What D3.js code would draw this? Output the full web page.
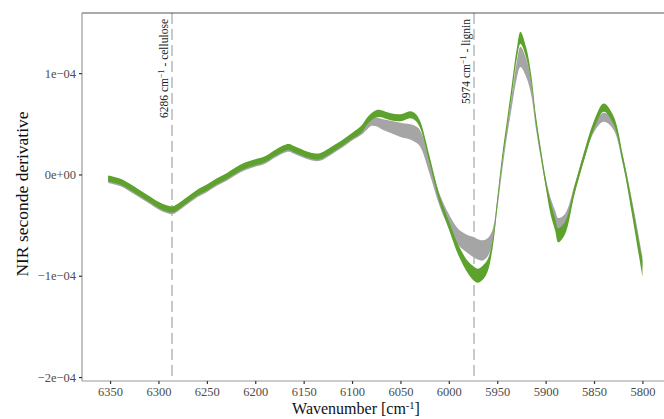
<!DOCTYPE html>
<html>
<head>
<meta charset="utf-8">
<script src="https://cdn.jsdelivr.net/npm/d3@7"></script>
<style>
  body { margin: 0; background: #fff; }
  svg { display: block; font-family: "Liberation Serif", "DejaVu Serif", serif; }
</style>
</head>
<body>
<div id="chart"></div>
<script>
// values in units of 1e-04
const wavenumber = [6352, 6340, 6330, 6320, 6310, 6300, 6290, 6285, 6280, 6270, 6260, 6250, 6240, 6230, 6220, 6210, 6200, 6190, 6180, 6170, 6165, 6160, 6150, 6140, 6133, 6120, 6110, 6100, 6090, 6085, 6080, 6075, 6070, 6060, 6050, 6040, 6035, 6030, 6020, 6010, 6000, 5990, 5980, 5974, 5970, 5965, 5960, 5955, 5950, 5945, 5940, 5935, 5930, 5926, 5920, 5915, 5910, 5905, 5900, 5895, 5890, 5887, 5880, 5870, 5860, 5850, 5840, 5830, 5820, 5810, 5800];

const greenLower = [-0.07, -0.10, -0.15, -0.21, -0.27, -0.33, -0.37, -0.375, -0.35, -0.28, -0.21, -0.16, -0.10, -0.05, 0.01, 0.06, 0.09, 0.12, 0.18, 0.23, 0.24, 0.22, 0.18, 0.15, 0.15, 0.22, 0.28, 0.35, 0.415, 0.485, 0.535, 0.565, 0.565, 0.535, 0.525, 0.555, 0.535, 0.465, 0.115, -0.265, -0.54, -0.80, -0.98, -1.05, -1.07, -1.04, -0.96, -0.74, -0.32, 0.10, 0.45, 0.78, 1.13, 1.29, 1.15, 0.91, 0.50, 0.18, -0.12, -0.39, -0.56, -0.67, -0.59, -0.19, 0.15, 0.45, 0.62, 0.50, 0.10, -0.44, -1.01];
const greenUpper = [-0.01, -0.04, -0.09, -0.15, -0.21, -0.27, -0.31, -0.315, -0.29, -0.22, -0.15, -0.10, -0.04, 0.01, 0.07, 0.12, 0.15, 0.18, 0.24, 0.29, 0.30, 0.28, 0.24, 0.21, 0.21, 0.28, 0.34, 0.41, 0.485, 0.555, 0.605, 0.635, 0.635, 0.605, 0.595, 0.625, 0.605, 0.535, 0.185, -0.195, -0.46, -0.70, -0.86, -0.91, -0.93, -0.90, -0.84, -0.66, -0.24, 0.18, 0.53, 0.88, 1.23, 1.41, 1.25, 0.99, 0.58, 0.26, -0.04, -0.27, -0.44, -0.53, -0.47, -0.11, 0.23, 0.53, 0.70, 0.58, 0.18, -0.32, -0.85];

const greyLower = [-0.085, -0.115, -0.165, -0.225, -0.285, -0.345, -0.385, -0.39, -0.365, -0.295, -0.225, -0.175, -0.115, -0.065, -0.005, 0.045, 0.075, 0.105, 0.165, 0.215, 0.225, 0.205, 0.165, 0.135, 0.135, 0.205, 0.265, 0.335, 0.395, 0.44, 0.48, 0.475, 0.45, 0.41, 0.37, 0.345, 0.32, 0.28, 0.01, -0.30, -0.53, -0.70, -0.78, -0.82, -0.84, -0.85, -0.81, -0.69, -0.35, 0.03, 0.37, 0.66, 0.94, 1.06, 0.96, 0.79, 0.45, 0.16, -0.11, -0.33, -0.48, -0.55, -0.51, -0.18, 0.15, 0.42, 0.52, 0.445, 0.09, -0.39, -0.93];
const greyUpper = [-0.015, -0.045, -0.095, -0.155, -0.215, -0.275, -0.315, -0.32, -0.295, -0.225, -0.155, -0.105, -0.045, 0.005, 0.065, 0.115, 0.145, 0.175, 0.235, 0.285, 0.295, 0.275, 0.235, 0.205, 0.205, 0.275, 0.335, 0.405, 0.465, 0.52, 0.56, 0.565, 0.55, 0.53, 0.51, 0.495, 0.48, 0.44, 0.15, -0.18, -0.39, -0.54, -0.60, -0.62, -0.64, -0.65, -0.63, -0.55, -0.25, 0.13, 0.47, 0.78, 1.10, 1.26, 1.14, 0.93, 0.55, 0.24, -0.03, -0.23, -0.36, -0.43, -0.39, -0.10, 0.23, 0.50, 0.61, 0.535, 0.17, -0.29, -0.81];

const xTicks = [6350, 6300, 6250, 6200, 6150, 6100, 6050, 6000, 5950, 5900, 5850, 5800];
const yTicks = [-2, -1, 0, 1];
const yTickLabels = ["\u22122e\u221204", "\u22121e\u221204", "0e+00", "1e\u221204"];

const markerPositions = [6286, 5974];
const markerNames = ["cellulose", "lignin"];

const width = 664;
const height = 419;
const margin = { top: 13, right: 0, bottom: 38, left: 82 };

const svg = d3
  .select("#chart")
  .append("svg")
  .attr("width", width)
  .attr("height", height);

const x = d3
  .scaleLinear()
  .domain([6379, 5777.7])
  .range([margin.left, width - margin.right]);

const y = d3
  .scaleLinear()
  .domain([-2.039, 1.594])
  .range([height - margin.bottom, margin.top]);

const rows = wavenumber.map((w, i) => ({
  w: w,
  gl: greenLower[i],
  gu: greenUpper[i],
  rl: greyLower[i],
  ru: greyUpper[i],
}));

// marker lines sit under the ribbons
svg
  .append("g")
  .selectAll("line")
  .data(markerPositions)
  .enter()
  .append("line")
  .attr("x1", (d) => x(d))
  .attr("x2", (d) => x(d))
  .attr("y1", margin.top)
  .attr("y2", height - margin.bottom)
  .attr("stroke", "#b3b3b3")
  .attr("stroke-width", 1.4)
  .attr("stroke-dasharray", "11,5");

const greyArea = d3
  .area()
  .curve(d3.curveCatmullRom)
  .x((d) => x(d.w))
  .y0((d) => y(d.rl))
  .y1((d) => y(d.ru));

const greenArea = d3
  .area()
  .curve(d3.curveCatmullRom)
  .x((d) => x(d.w))
  .y0((d) => y(d.gl))
  .y1((d) => y(d.gu));

svg.append("path").datum(rows).attr("d", greyArea).attr("fill", "#a5a5a5");
svg.append("path").datum(rows).attr("d", greenArea).attr("fill", "#5da22c");

// marker labels
const labels = svg
  .append("g")
  .selectAll("text")
  .data(markerPositions)
  .enter()
  .append("text")
  .attr("transform", (d) => "translate(" + (x(d) - 4) + "," + 19 + ") rotate(-90)")
  .attr("text-anchor", "end")
  .attr("font-size", 11.5)
  .attr("fill", "#1a1a1a");
labels.append("tspan").text((d) => d + " cm");
labels
  .append("tspan")
  .attr("baseline-shift", "super")
  .attr("font-size", 8)
  .text("\u22121");
labels.append("tspan").text((d, i) => " - " + markerNames[i]);

// panel frame
svg
  .append("line")
  .attr("x1", margin.left)
  .attr("x2", width)
  .attr("y1", margin.top)
  .attr("y2", margin.top)
  .attr("stroke", "#555")
  .attr("stroke-width", 1.2);
svg
  .append("line")
  .attr("x1", margin.left)
  .attr("x2", margin.left)
  .attr("y1", margin.top)
  .attr("y2", height - margin.bottom)
  .attr("stroke", "#9a9a9a")
  .attr("stroke-width", 1.2);
svg
  .append("line")
  .attr("x1", margin.left)
  .attr("x2", width)
  .attr("y1", height - margin.bottom)
  .attr("y2", height - margin.bottom)
  .attr("stroke", "#9a9a9a")
  .attr("stroke-width", 1.2);

// axes
const xAxis = svg
  .append("g")
  .attr("transform", "translate(0," + (height - margin.bottom) + ")")
  .call(d3.axisBottom(x).tickValues(xTicks).tickFormat(d3.format("d")).tickSize(3).tickPadding(3));
xAxis.select(".domain").remove();
xAxis.selectAll(".tick line").attr("stroke", "#333").attr("stroke-width", 1.2);
xAxis
  .selectAll(".tick text")
  .attr("font-family", "Liberation Serif")
  .attr("font-size", 12.5)
  .attr("fill", "#4d4d4d");

const yAxis = svg
  .append("g")
  .attr("transform", "translate(" + margin.left + ",0)")
  .call(
    d3
      .axisLeft(y)
      .tickValues(yTicks)
      .tickFormat((d, i) => yTickLabels[i])
      .tickSize(3)
      .tickPadding(3)
  );
yAxis.select(".domain").remove();
yAxis.selectAll(".tick line").attr("stroke", "#333").attr("stroke-width", 1.2);
yAxis
  .selectAll(".tick text")
  .attr("font-family", "Liberation Serif")
  .attr("font-size", 12.5)
  .attr("fill", "#4d4d4d");

// axis titles
const xTitle = svg
  .append("text")
  .attr("x", 356)
  .attr("y", 414)
  .attr("text-anchor", "middle")
  .attr("font-size", 16)
  .attr("fill", "#111");
xTitle.append("tspan").text("Wavenumber [cm");
xTitle.append("tspan").attr("baseline-shift", "super").attr("font-size", 10.5).text("-1");
xTitle.append("tspan").text("]");

svg
  .append("text")
  .attr("transform", "translate(28," + 194 + ") rotate(-90)")
  .attr("text-anchor", "middle")
  .attr("font-size", 17.5)
  .attr("fill", "#111")
  .text("NIR seconde derivative");
</script>
</body>
</html>
